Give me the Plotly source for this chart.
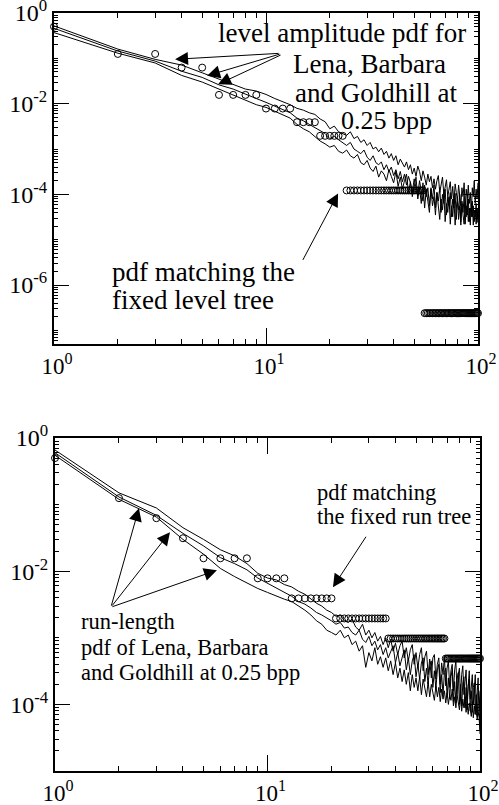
import plotly.graph_objects as go

# ---------------- data ----------------
x_vals = list(range(1, 101))

# top panel: level amplitude pdf (three images)
top_barbara = [
    0.52, 0.16, 9.5e-2, 7.1e-2, 4.8e-2, 3.5e-2, 2.7e-2, 2.1e-2, 1.9e-2, 1.6e-2,
    1.3e-2, 1.1e-2, 9.5e-3, 7.9e-3, 7.2e-3, 6.3e-3, 5.8e-3, 4.6e-3, 4.0e-3, 2.8e-3,
    3.2e-3, 2.4e-3, 2.2e-3, 2.0e-3, 2.4e-3, 1.7e-3, 1.9e-3, 1.4e-3, 1.6e-3, 1.2e-3,
    1.4e-3, 1.0e-3, 1.1e-3, 8.7e-4, 1.05e-3, 7.6e-4, 8.9e-4, 6.3e-4, 7.9e-4, 5.6e-4,
    7.1e-4, 4.5e-4, 6.0e-4, 5.0e-4, 4.0e-4, 5.2e-4, 3.5e-4, 4.5e-4, 2.8e-4, 3.8e-4,
    2.5e-4, 4.2e-4, 3.2e-4, 2.0e-4, 3.3e-4, 2.4e-4, 1.6e-4, 2.8e-4, 1.9e-4, 2.5e-4,
    1.4e-4, 2.2e-4, 1.3e-4, 2.0e-4, 2.6e-4, 1.1e-4, 1.8e-4, 2.4e-4, 1.0e-4, 1.6e-4,
    2.1e-4, 8.9e-5, 1.4e-4, 1.9e-4, 7.9e-5, 1.5e-4, 6.3e-5, 1.7e-4, 1.1e-4, 7.1e-5,
    1.6e-4, 1.0e-4, 5.6e-5, 1.4e-4, 8.9e-5, 1.8e-4, 5.0e-5, 1.3e-4, 7.9e-5, 1.6e-4,
    6.3e-5, 1.1e-4, 4.0e-5, 1.4e-4, 8.9e-5, 2.0e-4, 6.3e-5, 1.3e-4, 7.9e-5, 1.8e-4,
]
top_lena = [
    4.6e-1, 1.45e-1, 8.7e-2, 5.2e-2, 3.8e-2, 2.6e-2, 2.1e-2, 1.6e-2, 1.3e-2, 1.07e-2,
    8.9e-3, 7.6e-3, 6.3e-3, 4.8e-3, 4.2e-3, 3.5e-3, 3.0e-3, 2.6e-3, 2.2e-3, 1.7e-3,
    1.9e-3, 1.6e-3, 1.4e-3, 1.2e-3, 1.4e-3, 1.0e-3, 8.9e-4, 7.9e-4, 9.5e-4, 6.6e-4,
    5.6e-4, 7.1e-4, 5.0e-4, 4.5e-4, 5.2e-4, 3.5e-4, 4.5e-4, 3.2e-4, 4.0e-4, 2.6e-4,
    3.5e-4, 2.2e-4, 3.2e-4, 1.9e-4, 2.8e-4, 1.6e-4, 2.5e-4, 1.8e-4, 1.1e-4, 2.2e-4,
    1.4e-4, 1.0e-4, 2.0e-4, 1.3e-4, 7.1e-5, 1.6e-4, 8.9e-5, 1.4e-4, 5.6e-5, 1.3e-4,
    7.9e-5, 1.6e-4, 5.0e-5, 1.1e-4, 7.1e-5, 1.4e-4, 4.0e-5, 1.0e-4, 6.3e-5, 1.3e-4,
    3.5e-5, 8.9e-5, 5.6e-5, 1.1e-4, 3.2e-5, 7.9e-5, 5.0e-5, 1.05e-4, 2.8e-5, 7.1e-5,
    4.5e-5, 1.0e-4, 2.5e-5, 6.3e-5, 4.0e-5, 8.9e-5, 2.2e-5, 5.6e-5, 3.5e-5, 7.9e-5,
    2.5e-5, 5.0e-5, 3.2e-5, 7.1e-5, 2.1e-5, 4.5e-5, 3.2e-5, 6.3e-5, 2.4e-5, 5.0e-5,
]
top_goldhill = [
    3.7e-1, 1.3e-1, 7.9e-2, 4.2e-2, 3.0e-2, 2.1e-2, 1.6e-2, 1.2e-2, 9.5e-3, 8.3e-3,
    6.9e-3, 5.6e-3, 4.8e-3, 3.5e-3, 2.8e-3, 2.4e-3, 1.9e-3, 1.5e-3, 1.3e-3, 1.1e-3,
    1.2e-3, 8.9e-4, 8.1e-4, 9.5e-4, 7.1e-4, 6.3e-4, 7.6e-4, 5.0e-4, 4.5e-4, 5.6e-4,
    3.8e-4, 3.2e-4, 4.2e-4, 2.4e-4, 3.3e-4, 2.8e-4, 2.0e-4, 3.5e-4, 2.5e-4, 1.8e-4,
    3.2e-4, 1.5e-4, 2.4e-4, 1.3e-4, 2.0e-4, 2.8e-4, 1.1e-4, 1.9e-4, 8.9e-5, 1.6e-4,
    2.4e-4, 7.9e-5, 1.4e-4, 6.3e-5, 1.8e-4, 5.0e-5, 1.3e-4, 7.1e-5, 4.0e-5, 1.4e-4,
    5.6e-5, 8.9e-5, 3.5e-5, 1.1e-4, 5.0e-5, 2.8e-5, 7.9e-5, 4.5e-5, 1.1e-4, 2.5e-5,
    6.3e-5, 4.0e-5, 8.9e-5, 2.2e-5, 5.6e-5, 3.2e-5, 7.9e-5, 2.1e-5, 5.0e-5, 8.9e-5,
    2.8e-5, 5.6e-5, 2.1e-5, 7.1e-5, 3.5e-5, 2.2e-5, 6.3e-5, 3.2e-5, 7.9e-5, 2.5e-5,
    5.0e-5, 2.1e-5, 6.3e-5, 3.2e-5, 5.6e-5, 2.5e-5, 4.5e-5, 2.2e-5, 5.0e-5, 2.8e-5,
]
# pdf matching the fixed level tree
level_tree_pdf = ([0.5] + [0.125] * 2 + [0.0625] * 2 + [0.015625] * 4 + [0.0078125] * 4
                  + [0.00390625] * 4 + [0.001953125] * 6 + [1.22e-4] * 32 + [2.4e-7] * 45)

# bottom panel: run-length pdf (three images)
bot_barbara = [
    6.6e-1, 1.5e-1, 8.9e-2, 4.5e-2, 3.0e-2, 2.1e-2, 1.7e-2, 1.3e-2, 9.3e-3, 7.9e-3,
    7.4e-3, 6.3e-3, 5.8e-3, 5.0e-3, 4.5e-3, 3.8e-3, 3.3e-3, 3.0e-3, 2.6e-3, 2.4e-3,
    2.1e-3, 2.2e-3, 1.8e-3, 1.7e-3, 1.9e-3, 1.45e-3, 1.3e-3, 1.6e-3, 1.1e-3, 1.3e-3,
    1.0e-3, 1.2e-3, 8.9e-4, 1.05e-3, 7.9e-4, 1.0e-3, 7.1e-4, 9.5e-4, 6.3e-4, 8.3e-4,
    5.6e-4, 7.6e-4, 8.9e-4, 5.0e-4, 7.1e-4, 4.5e-4, 6.6e-4, 7.9e-4, 4.0e-4, 6.0e-4,
    3.5e-4, 5.6e-4, 7.1e-4, 3.2e-4, 5.2e-4, 6.3e-4, 2.8e-4, 4.8e-4, 2.5e-4, 5.0e-4,
    5.6e-4, 2.4e-4, 4.0e-4, 5.0e-4, 2.0e-4, 4.2e-4, 2.8e-4, 5.2e-4, 1.9e-4, 3.5e-4,
    4.5e-4, 1.8e-4, 3.2e-4, 4.0e-4, 1.6e-4, 3.3e-4, 4.5e-4, 1.4e-4, 2.8e-4, 3.5e-4,
    1.3e-4, 2.8e-4, 3.8e-4, 1.4e-4, 2.5e-4, 3.3e-4, 1.1e-4, 2.4e-4, 3.2e-4, 1.2e-4,
    2.2e-4, 2.8e-4, 1.0e-4, 2.0e-4, 2.8e-4, 8.9e-5, 1.9e-4, 2.5e-4, 7.9e-5, 1.6e-4,
]
bot_lena = [
    6.0e-1, 1.3e-1, 6.9e-2, 3.7e-2, 2.4e-2, 1.6e-2, 1.3e-2, 1.05e-2, 7.9e-3, 6.6e-3,
    5.6e-3, 4.8e-3, 4.2e-3, 3.5e-3, 3.2e-3, 2.8e-3, 2.4e-3, 2.2e-3, 2.0e-3, 1.8e-3,
    1.6e-3, 1.7e-3, 1.4e-3, 1.45e-3, 1.2e-3, 1.1e-3, 1.3e-3, 9.5e-4, 8.5e-4, 1.05e-3,
    7.6e-4, 8.9e-4, 6.6e-4, 7.9e-4, 5.6e-4, 7.1e-4, 5.0e-4, 6.3e-4, 7.6e-4, 4.2e-4,
    6.0e-4, 3.8e-4, 5.2e-4, 6.6e-4, 3.3e-4, 5.0e-4, 2.8e-4, 4.5e-4, 5.6e-4, 2.6e-4,
    4.0e-4, 2.4e-4, 4.2e-4, 5.0e-4, 2.2e-4, 3.5e-4, 2.0e-4, 3.8e-4, 4.5e-4, 1.8e-4,
    3.2e-4, 1.7e-4, 3.3e-4, 4.0e-4, 1.5e-4, 2.8e-4, 1.4e-4, 3.0e-4, 3.5e-4, 1.3e-4,
    2.5e-4, 1.2e-4, 2.6e-4, 3.3e-4, 1.1e-4, 2.2e-4, 1.05e-4, 2.4e-4, 3.0e-4, 1.0e-4,
    2.0e-4, 9.5e-5, 2.1e-4, 2.6e-4, 8.9e-5, 1.8e-4, 8.3e-5, 1.9e-4, 2.4e-4, 7.9e-5,
    1.6e-4, 7.6e-5, 1.8e-4, 2.1e-4, 7.1e-5, 1.4e-4, 6.6e-5, 1.5e-4, 1.1e-4, 3.6e-5,
]
bot_goldhill = [
    5.5e-1, 1.2e-1, 6.5e-2, 3.0e-2, 1.8e-2, 1.1e-2, 8.3e-3, 6.6e-3, 5.5e-3, 4.8e-3,
    4.2e-3, 3.8e-3, 3.5e-3, 3.0e-3, 2.6e-3, 2.2e-3, 1.8e-3, 1.6e-3, 1.3e-3, 1.2e-3,
    1.1e-3, 1.3e-3, 1.0e-3, 1.1e-3, 7.9e-4, 8.9e-4, 6.3e-4, 7.6e-4, 3.6e-4, 6.0e-4,
    4.5e-4, 7.1e-4, 4.0e-4, 5.2e-4, 3.6e-4, 5.0e-4, 3.2e-4, 4.5e-4, 2.8e-4, 4.2e-4,
    2.5e-4, 3.5e-4, 2.2e-4, 3.3e-4, 2.0e-4, 3.0e-4, 1.6e-4, 2.8e-4, 1.8e-4, 2.5e-4,
    1.6e-4, 2.6e-4, 1.4e-4, 2.4e-4, 1.7e-4, 1.3e-4, 2.2e-4, 1.3e-4, 2.0e-4, 1.4e-4,
    1.15e-4, 1.9e-4, 1.3e-4, 1.8e-4, 1.1e-4, 1.7e-4, 1.2e-4, 1.6e-4, 1.05e-4, 1.5e-4,
    1.0e-4, 1.4e-4, 1.15e-4, 1.7e-4, 9.5e-5, 1.3e-4, 8.9e-5, 1.4e-4, 1.1e-4, 8.3e-5,
    1.3e-4, 7.9e-5, 1.2e-4, 8.9e-5, 1.3e-4, 7.6e-5, 1.1e-4, 7.1e-5, 1.05e-4, 7.9e-5,
    6.6e-5, 1.1e-4, 6.3e-5, 9.5e-5, 7.1e-5, 8.9e-5, 6.0e-5, 7.9e-5, 6.3e-5, 4.0e-5,
]
# pdf matching the fixed run tree
run_tree_pdf = ([0.5, 0.125, 0.0625, 0.03125] + [0.015625] * 4 + [0.0078125] * 4
                + [0.00390625] * 8 + [0.001953125] * 16 + [0.0009765625] * 32
                + [0.00048828125] * 32)

# tick labels
x_tick_vals = [1, 10, 100]
x_tick_text = ["10<sup>0</sup>", "10<sup>1</sup>", "10<sup>2</sup>"]
top_y_tick_vals = [1, 1e-2, 1e-4, 1e-6]
top_y_tick_text = ["10<sup>0</sup>", "10<sup>-2</sup>", "10<sup>-4</sup>", "10<sup>-6</sup>"]
bot_y_tick_vals = [1, 1e-2, 1e-4]
bot_y_tick_text = ["10<sup>0</sup>", "10<sup>-2</sup>", "10<sup>-4</sup>"]

# ---------------- figure ----------------
W, H = 499, 805
FONT = "Liberation Serif, Times New Roman, Times, serif"
fig = go.Figure()

line_style = dict(color="black", width=1)
marker_style = dict(symbol="circle-open", size=7, color="black", line=dict(width=1, color="black"))

for ys in (top_barbara, top_lena, top_goldhill):
    fig.add_trace(go.Scatter(x=x_vals, y=ys, mode="lines", line=line_style,
                             xaxis="x", yaxis="y", showlegend=False))
fig.add_trace(go.Scatter(x=x_vals, y=level_tree_pdf, mode="markers", marker=marker_style,
                         cliponaxis=False, xaxis="x", yaxis="y", showlegend=False))
for ys in (bot_barbara, bot_lena, bot_goldhill):
    fig.add_trace(go.Scatter(x=x_vals, y=ys, mode="lines", line=line_style,
                             xaxis="x2", yaxis="y2", showlegend=False))
fig.add_trace(go.Scatter(x=x_vals, y=run_tree_pdf, mode="markers", marker=marker_style,
                         cliponaxis=False, xaxis="x2", yaxis="y2", showlegend=False))


def minor_vals(k_lo, k_hi, majors):
    vals = []
    for k in range(k_lo, k_hi + 1):
        for m in range(1, 10):
            v = m * 10.0 ** k
            if not any(abs(v - mv) / mv < 1e-9 for mv in majors):
                vals.append(v)
    return vals


def xaxis_cfg(domain):
    return dict(type="log", range=[0, 2], domain=domain, showline=True, linewidth=2,
                linecolor="black", mirror="allticks", ticks="inside", ticklen=16,
                tickwidth=1.2, tickcolor="black", tickmode="array",
                tickvals=x_tick_vals, ticktext=x_tick_text, showgrid=False, zeroline=False,
                tickfont=dict(family=FONT, size=23, color="black"), ticklabelshift=3,
                ticklabeloverflow="allow", automargin=False,
                minor=dict(ticks="inside", ticklen=5, tickwidth=1, tickcolor="black",
                           tickmode="array", tickvals=minor_vals(0, 1, x_tick_vals),
                           showgrid=False))


def yaxis_cfg(domain, rng, tv, tt, anchor):
    return dict(type="log", range=rng, domain=domain, anchor=anchor, showline=True,
                linewidth=2, linecolor="black", mirror="allticks", ticks="inside",
                ticklen=15, tickwidth=1.2, tickcolor="black", tickmode="array",
                tickvals=tv, ticktext=tt, showgrid=False, zeroline=False,
                tickfont=dict(family=FONT, size=24, color="black"),
                ticklabeloverflow="allow", automargin=False,
                minor=dict(ticks="inside", ticklen=4, tickwidth=1, tickcolor="black",
                           tickmode="array", tickvals=minor_vals(-8, 0, tv),
                           showgrid=False))


fig.update_layout(
    width=W, height=H, margin=dict(l=0, r=0, t=0, b=0),
    paper_bgcolor="white", plot_bgcolor="white",
    font=dict(family=FONT, color="black"),
    xaxis=xaxis_cfg([54 / W, 478 / W]) | dict(anchor="y"),
    yaxis=yaxis_cfg([1 - 344 / H, 1 - 13 / H], [-7.3, 0], top_y_tick_vals, top_y_tick_text, "x"),
    xaxis2=xaxis_cfg([55 / W, 480 / W]) | dict(anchor="y2"),
    yaxis2=yaxis_cfg([1 - 771 / H, 1 - 438 / H], [-5, 0], bot_y_tick_vals, bot_y_tick_text, "x2"),
)

annotations = []


def txt(s, px, py, size, anchor="center"):
    annotations.append(dict(text=s, x=px / W, y=1 - py / H, xref="paper", yref="paper",
                            xanchor=anchor, yanchor="middle", showarrow=False,
                            font=dict(family=FONT, size=size, color="black")))


def arrow(xr, yr, xl, yl, ax, ay):
    annotations.append(dict(text="", x=xl, y=yl, xref=xr, yref=yr, ax=ax, ay=ay,
                            axref="pixel", ayref="pixel", showarrow=True,
                            arrowhead=2, arrowsize=2.6, arrowwidth=1, arrowcolor="black",
                            standoff=0, startstandoff=0))


# top panel text
txt("level amplitude pdf for", 342, 33, 27)
txt("Lena, Barbara", 369, 64, 27)
txt("and Goldhill at", 376, 93, 27)
txt("0.25 bpp", 386, 120, 26)
txt("pdf matching the", 110, 272, 27, "left")
txt("fixed level tree", 110, 300, 27, "left")
# bottom panel text
txt("pdf matching", 315, 492, 22.5, "left")
txt("the fixed run tree", 315, 516, 22.5, "left")
txt("run-length", 79, 621, 22.5, "left")
txt("pdf of Lena, Barbara", 79, 647, 22.5, "left")
txt("and Goldhill at 0.25 bpp", 79, 672, 22.5, "left")

# top panel arrows (head positions in log10 units, tails as pixel offsets)
arrow("x", "y", 0.571, -1.021, 105, -6)
arrow("x", "y", 0.722, -1.383, 74, -22)
arrow("x", "y", 0.774, -1.574, 64, -30)
arrow("x", "y", 1.340, -3.979, -36, 68)
# bottom panel arrows
arrow("x2", "y2", 0.395, -1.053, -28, 99)
arrow("x2", "y2", 0.541, -1.414, -59, 75)
arrow("x2", "y2", 0.762, -1.985, -106, 37)
arrow("x2", "y2", 1.308, -2.241, 34, -52)

fig.update_layout(annotations=annotations)
fig.write_html("out.html")
